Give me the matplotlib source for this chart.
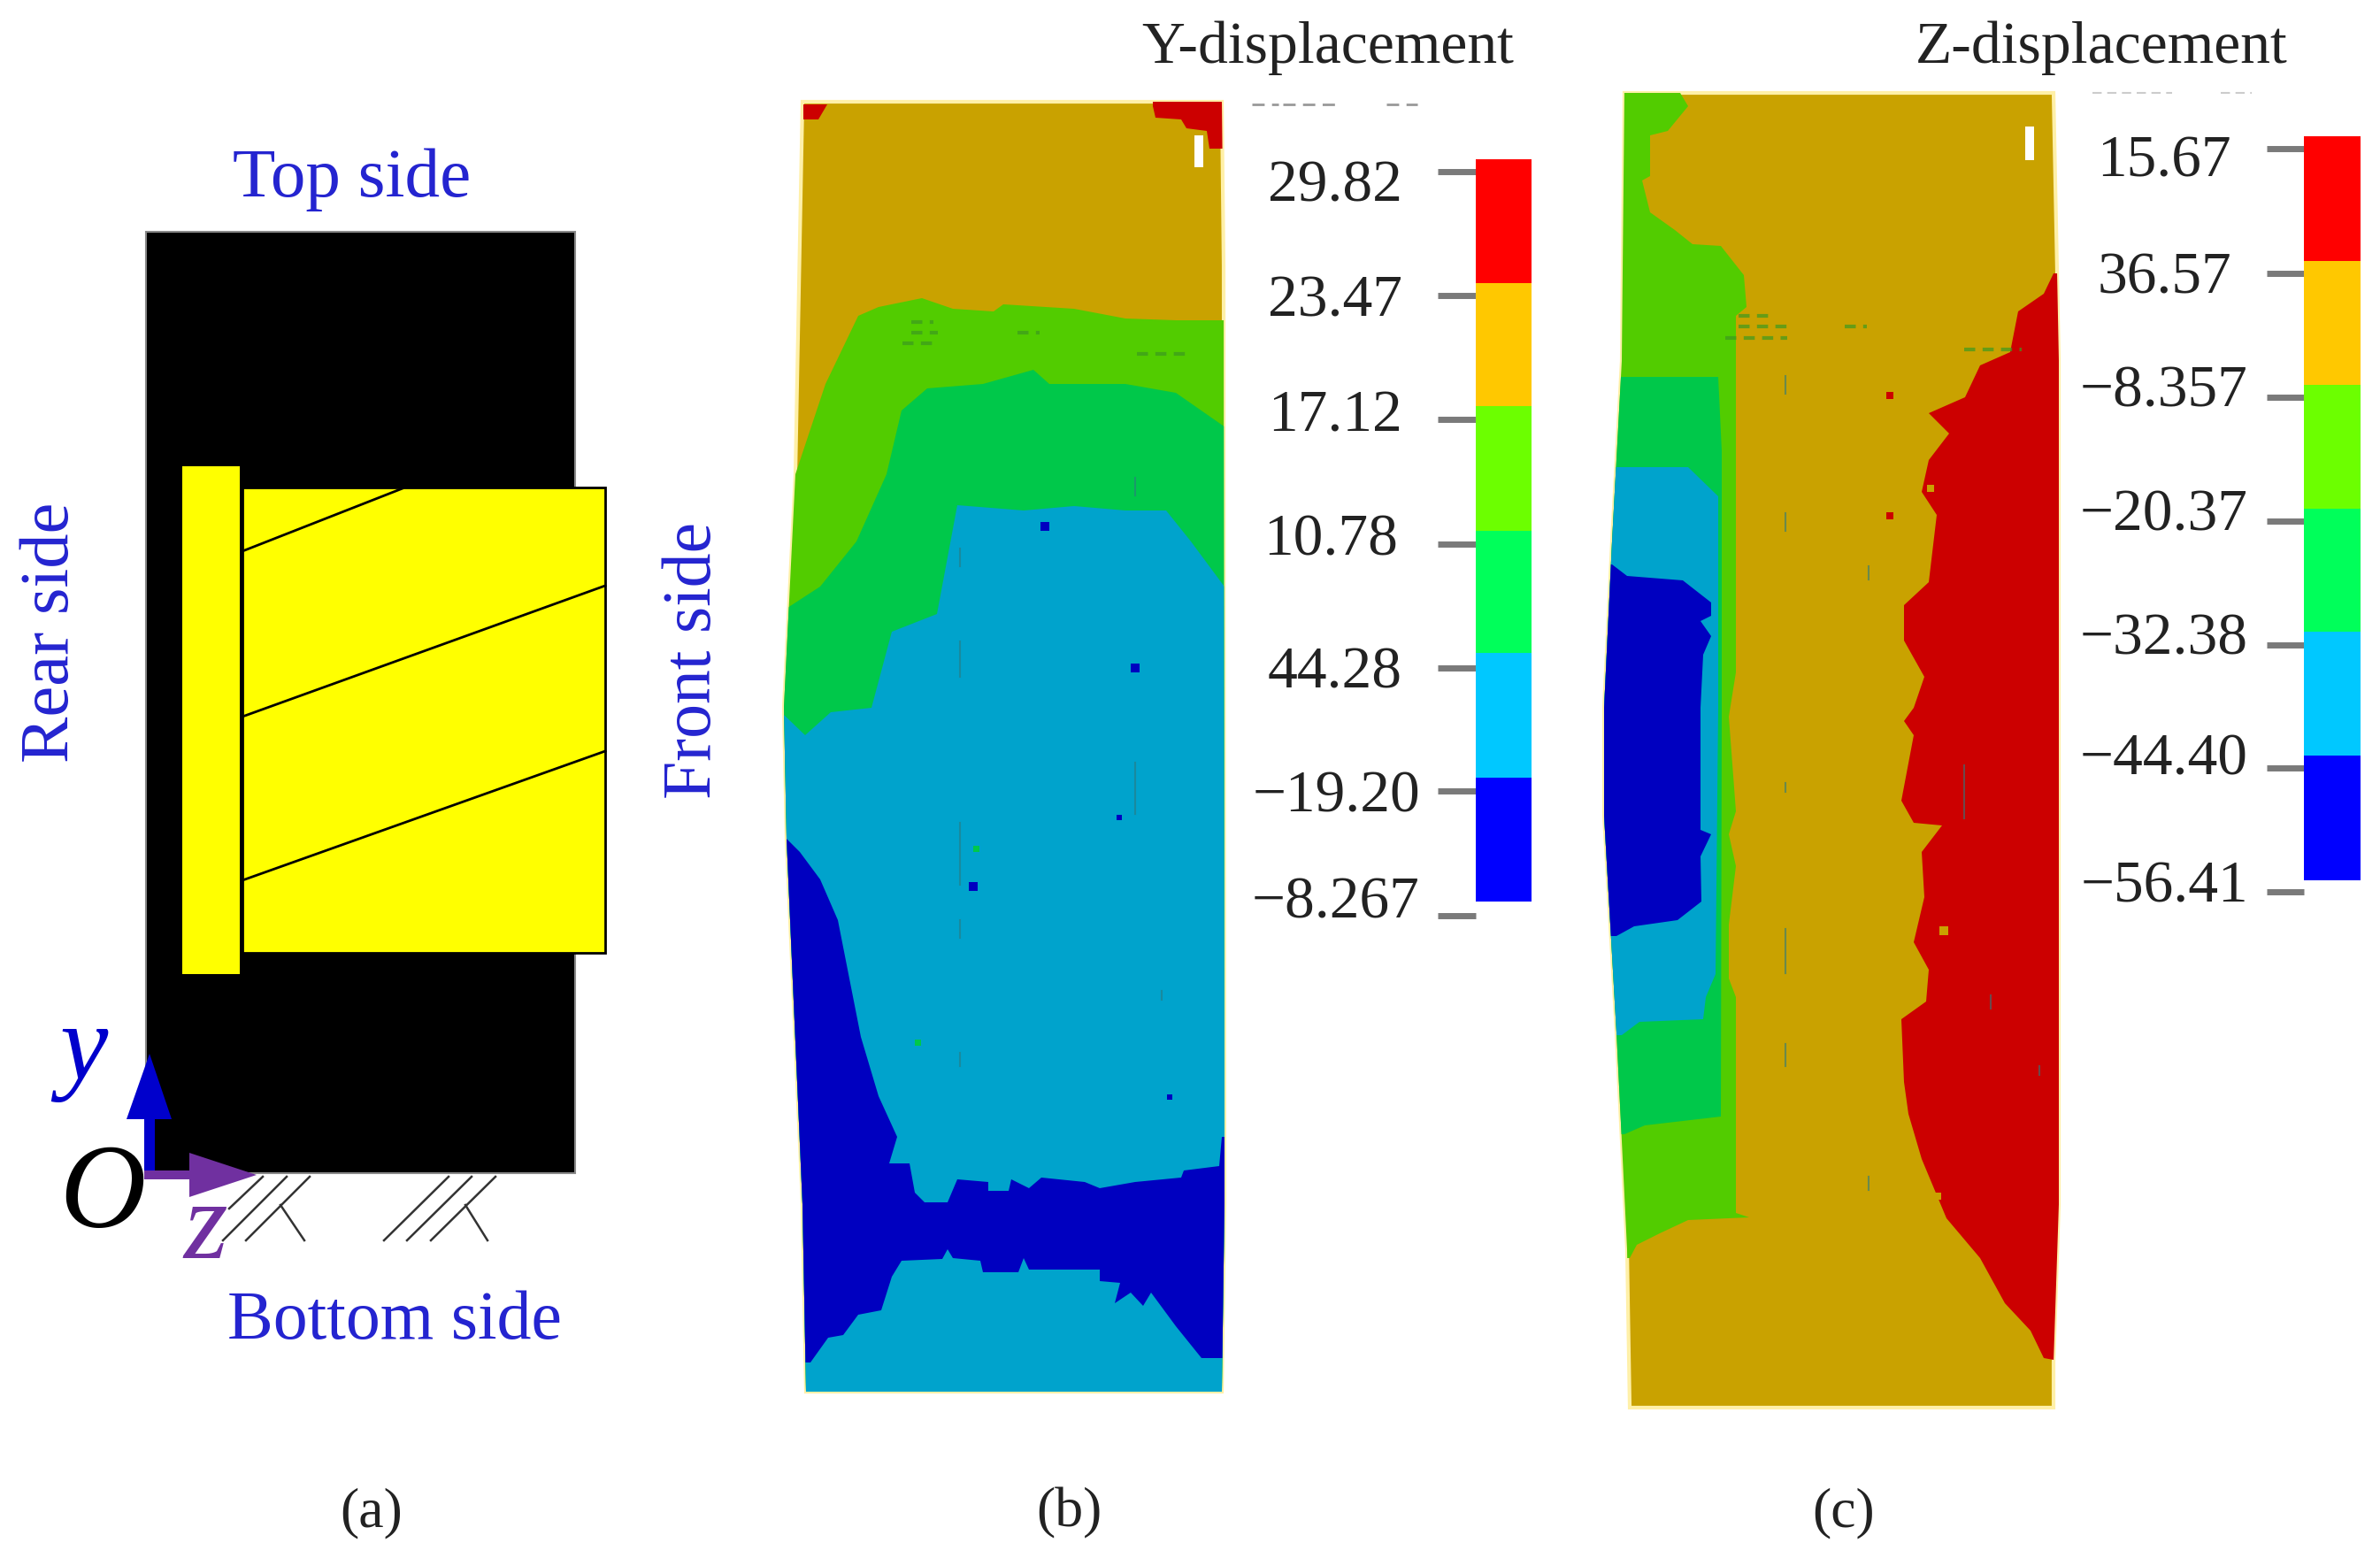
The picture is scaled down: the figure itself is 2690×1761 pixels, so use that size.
import matplotlib
matplotlib.use("Agg")
import matplotlib.pyplot as plt
from matplotlib.patches import Polygon, Rectangle

plt.rcParams['font.family'] = ['Liberation Serif', 'DejaVu Serif']

# ---- colours of the contour levels
GOLD, LIME, GREEN, CYAN, NAVY, DRED = '#C9A200', '#52CC00', '#00C84A', '#00A3CC', '#0000C0', '#CC0000'
BAR_COLORS = ['#FF0000', '#FFC800', '#6CFF00', '#00FF5A', '#00C8FF', '#0000FF']

# ---- colour bars
y_labels = ['29.82', '23.47', '17.12', '10.78', '44.28', '\u221219.20', '\u22128.267']
y_label_base = [227, 357, 487, 627, 778, 917, 1038]
y_label_right = [1585, 1585, 1585, 1580, 1585, 1605, 1605]
y_bar_edges = [180, 320, 459, 600, 738, 879, 1019]
y_ticks = [194, 334, 474, 615, 755, 894, 1035]

z_labels = ['15.67', '36.57', '\u22128.357', '\u221220.37', '\u221232.38', '\u221244.40', '\u221256.41']
z_label_base = [200, 332, 459, 600, 739, 875, 1019]
z_label_right = [2522, 2522, 2541, 2541, 2541, 2541, 2541]
z_bar_edges = [154, 295, 435, 575, 714, 854, 995]
z_ticks = [168, 309, 449, 589, 729, 868, 1008]

# ---- panel (b) regions
b_outline = [(907,115),(1381,115),(1383,300),(1384,1360),(1381,1573),(911,1573),(907,1361),
             (889,948),(886,800),(899,536)]
b_lime = [(899,536),(933,434),(970,357),(993,347),(1042,337),(1077,349),(1123,352),(1134,344),
          (1214,349),(1272,360),(1329,362),(1395,362),(1395,1600),(870,1600),(870,536)]
b_green = [(870,689),(887,689),(927,663),(968,612),(1002,536),(1019,464),(1048,439),(1111,434),
           (1168,418),(1186,434),(1272,434),(1329,444),(1395,490),(1395,1600),(870,1600)]
b_cyan = [(870,805),(886,808),(910,831),(939,805),(985,800),(1008,714),(1059,694),(1082,571),
          (1157,577),(1214,572),(1272,577),(1318,577),(1346,612),(1395,678),(1395,1600),(870,1600)]
b_navy = [(889,948),(904,963),(927,994),(947,1040),(959,1101),(973,1172),(993,1239),(1014,1285),
          (1005,1315),(1028,1315),(1034,1348),(1045,1359),(1071,1359),(1082,1333),(1117,1336),
          (1117,1346),(1140,1346),(1143,1333),(1163,1343),(1177,1331),(1226,1336),(1243,1343),
          (1283,1336),(1335,1331),(1338,1323),(1378,1318),(1381,1285),(1395,1285),(1395,1535),
          (1358,1535),(1329,1499),(1301,1461),(1292,1476),(1278,1461),(1260,1473),(1266,1450),
          (1243,1448),(1243,1435),(1163,1435),(1157,1422),(1151,1438),(1111,1438),(1108,1425),
          (1077,1422),(1071,1412),(1065,1423),(1019,1425),(1008,1443),(996,1481),(970,1486),
          (953,1509),(936,1512),(916,1540),(870,1540),(870,948)]
b_red_right = [(1303,120),(1306,133),(1335,135),(1341,145),(1364,148),(1367,168),(1395,168),(1395,110),(1303,110)]
b_red_left = [(908,118),(935,118),(925,135),(908,135)]
b_white = [(1350,153),(1360,153),(1360,189),(1350,189)]
b_specks = [(1181,595,NAVY,10),(1283,755,NAVY,10),(1100,1002,NAVY,10),(1103,959,GREEN,7),
            (1037,1178,GREEN,7),(1265,924,NAVY,6),(1322,1240,NAVY,6)]
b_dashes = [(1085,725,765),(1085,930,1000),(1085,1040,1060),(1085,1190,1205),(1283,862,920),
            (1313,1120,1130),(1283,540,560),(1085,620,640)]

# ---- panel (c) regions
c_outline = [(1836,105),(2321,105),(2327,408),(2327,1361),(2321,1540),(2321,1591),(1842,1591),
             (1839,1412),(1827,1167),(1813,922),(1813,800),(1822,612),(1833,408)]
c_lime = [(1800,105),(1899,105),(1908,120),(1885,148),(1865,153),(1865,199),(1856,204),(1865,240),
          (1893,260),(1913,276),(1945,278),(1971,311),(1974,347),(1962,357),(1962,760),(1954,810),
          (1962,917),(1954,943),(1962,979),(1954,1045),(1954,1106),(1962,1127),(1962,1371),(1977,1376),
          (1908,1379),(1876,1394),(1850,1407),(1842,1422),(1800,1422)]
c_green = [(1800,426),(1942,426),(1946,510),(1946,800),(1945,1262),(1859,1272),(1836,1282),(1800,1282)]
c_cyan = [(1800,528),(1908,528),(1942,561),(1942,800),(1939,1101),(1928,1127),(1925,1152),(1853,1155),
          (1833,1170),(1800,1170)]
c_navy = [(1800,638),(1822,638),(1839,651),(1902,656),(1934,681),(1934,696),(1922,702),(1934,719),
          (1925,740),(1922,800),(1922,938),(1934,943),(1922,968),(1923,1019),(1896,1040),(1847,1047),
          (1827,1058),(1800,1058)]
c_red = [(2321,309),(2310,332),(2281,352),(2272,398),(2238,413),(2221,449),(2180,467),(2203,490),
         (2180,520),(2172,556),(2189,582),(2180,658),(2152,684),(2152,724),(2175,765),(2163,800),
         (2152,815),(2163,831),(2149,905),(2163,930),(2195,933),(2172,963),(2175,1014),(2163,1065),
         (2180,1096),(2177,1132),(2149,1152),(2152,1223),(2157,1259),(2172,1310),(2200,1377),(2238,1422),
         (2266,1473),(2295,1504),(2310,1535),(2321,1537),(2340,1537),(2340,309)]
c_white = [(2289,143),(2299,143),(2299,181),(2289,181)]
c_specks = [(2136,447,DRED,8),(2136,583,DRED,8),(2197,1052,GOLD,10),(2190,1352,GOLD,8),(2182,552,GOLD,8)]
c_dashes = [(2018,425,445),(2018,580,600),(2018,885,895),(2018,1050,1100),(2018,1180,1205),(2112,640,655),
            (2220,865,925),(2250,1125,1140),(2305,1205,1215),(2112,1330,1345)]
gaps_y = [(1965,2005,357),(1965,2025,369),(2085,2110,369),(1950,2020,382),(2220,2285,395)]
b_gaps_y = [(1030,1055,364),(1030,1060,376),(1150,1175,376),(1020,1060,388),(1285,1345,400)]

# ---- panel (a) schematic
block = (165, 262, 485, 1064)
flange = (206, 527, 65, 574)
body = (274, 551, 410, 526)
thread_lines = [((274,623),(455,552)),((274,810),(684,662)),((274,995),(684,849))]
support_lines = [((297,1330),(259,1366)),((324,1330),(252,1402)),((350,1330),(278,1402)),((317,1362),(344,1402)),
                 ((507,1330),(434,1402)),((533,1330),(460,1402)),((560,1330),(487,1402)),((526,1362),(551,1402))]

fig = plt.figure(figsize=(26.9, 17.61), dpi=100, facecolor='white')
ax = fig.add_axes([0, 0, 1, 1])
ax.set_xlim(0, 2690)
ax.set_ylim(1761, 0)
ax.axis('off')

TXT = '#222222'
BLUE = '#2424D0'
PURPLE = '#7030A0'
DB = '#0000CC'


def contour_panel(outline, layers, specks, dashes, gaps):
    base = Polygon(outline, closed=True, fc=GOLD, ec='#FFF0A8', lw=3, zorder=2)
    ax.add_patch(base)
    for pts, col in layers:
        p = Polygon(pts, closed=True, fc=col, ec='none', zorder=3)
        ax.add_patch(p)
        p.set_clip_path(Polygon(outline, closed=True, transform=ax.transData))
    for x, y, col, s in specks:
        ax.add_patch(Rectangle((x - s / 2, y - s / 2), s, s, fc=col, ec='none', zorder=4))
    for x, y0, y1 in dashes:
        ax.plot([x, x], [y0, y1], color='#2A7A80', lw=1.5, alpha=.6, zorder=4)
    for x0, x1, y in gaps:
        ax.plot([x0, x1], [y, y], color='#3C9A20', lw=3, alpha=.7, dashes=(3, 2), zorder=4)


contour_panel(b_outline, [(b_lime, LIME), (b_green, GREEN), (b_cyan, CYAN), (b_navy, NAVY),
                          (b_red_right, DRED), (b_red_left, DRED), (b_white, 'white')],
              b_specks, b_dashes, b_gaps_y)
contour_panel(c_outline, [(c_lime, LIME), (c_green, GREEN), (c_cyan, CYAN), (c_navy, NAVY),
                          (c_red, DRED), (c_white, 'white')],
              c_specks, c_dashes, gaps_y)


def colorbar(x0, x1, edges, ticks, tick_x0, labels, rights, bases, title, title_x):
    for i, col in enumerate(BAR_COLORS):
        ax.add_patch(Rectangle((x0, edges[i]), x1 - x0, edges[i + 1] - edges[i], fc=col, ec='none', zorder=3))
    for t in ticks:
        ax.plot([tick_x0, x0], [t, t], color='#7A7A7A', lw=5, solid_capstyle='butt', zorder=2)
    for lab, r, b in zip(labels, rights, bases):
        ax.text(r, b, lab, ha='right', va='baseline', fontsize=48.5, color=TXT)
    ax.text(title_x, 71, title, ha='center', va='baseline', fontsize=48.7, color=TXT)


colorbar(1668, 1731, y_bar_edges, y_ticks, 1625, y_labels, y_label_right, y_label_base, 'Y-displacement', 1501)
colorbar(2604, 2668, z_bar_edges, z_ticks, 2562, z_labels, z_label_right, z_label_base, 'Z-displacement', 2375)
for x0, x1 in [(1415, 1445), (1450, 1513), (1567, 1602)]:
    ax.plot([x0, x1], [118, 118], color='#999999', lw=2, dashes=(5, 3), zorder=2)
for x0, x1 in [(2365, 2455), (2510, 2545)]:
    ax.plot([x0, x1], [105, 105], color='#CCCCCC', lw=1.5, dashes=(5, 3), zorder=2)

# panel (a)
ax.add_patch(Rectangle(block[:2], block[2], block[3], fc='black', ec='#888888', lw=1.5, zorder=2))
ax.add_patch(Rectangle(body[:2], body[2], body[3], fc='#FFFF00', ec='black', lw=2, zorder=3))
ax.add_patch(Rectangle(flange[:2], flange[2], flange[3], fc='#FFFF00', ec='none', zorder=3))
for (a, b) in thread_lines:
    ax.plot([a[0], b[0]], [a[1], b[1]], color='black', lw=2, zorder=4)
for (a, b) in support_lines:
    ax.plot([a[0], b[0]], [a[1], b[1]], color='#333333', lw=1.8, zorder=2)

# axis arrows of the schematic
ax.add_patch(Rectangle((163, 1262), 12, 64, fc=DB, ec='none', zorder=5))
ax.add_patch(Polygon([(143, 1265), (194, 1265), (169, 1191)], closed=True, fc=DB, ec='none', zorder=5))
ax.add_patch(Rectangle((163, 1323), 52, 10, fc=PURPLE, ec='none', zorder=5))
ax.add_patch(Polygon([(214, 1303), (214, 1353), (290, 1328)], closed=True, fc=PURPLE, ec='none', zorder=5))

ax.text(398, 222, 'Top side', ha='center', va='baseline', fontsize=57, color=BLUE)
ax.text(446, 1513, 'Bottom side', ha='center', va='baseline', fontsize=56, color=BLUE)
ax.text(77, 715, 'Rear side', ha='center', va='baseline', rotation=90, rotation_mode='anchor', fontsize=56.5, color=BLUE)
ax.text(803, 746, 'Front side', ha='center', va='baseline', rotation=90, rotation_mode='anchor', fontsize=56, color=BLUE)
ax.text(116, 1387, 'O', ha='center', va='baseline', fontsize=97, style='italic', color='black', zorder=6)
ax.text(94, 1220, 'y', ha='center', va='baseline', fontsize=88, style='italic', color=DB, zorder=6)
ax.text(232, 1422, 'z', ha='center', va='baseline', fontsize=92, style='italic', color=PURPLE, zorder=6)

for x, s in [(420, '(a)'), (1208, '(b)'), (2084, '(c)')]:
    ax.text(x, 1725, s, ha='center', va='baseline', fontsize=46, color=TXT)

fig.savefig('out.png', dpi=100, facecolor='white')
